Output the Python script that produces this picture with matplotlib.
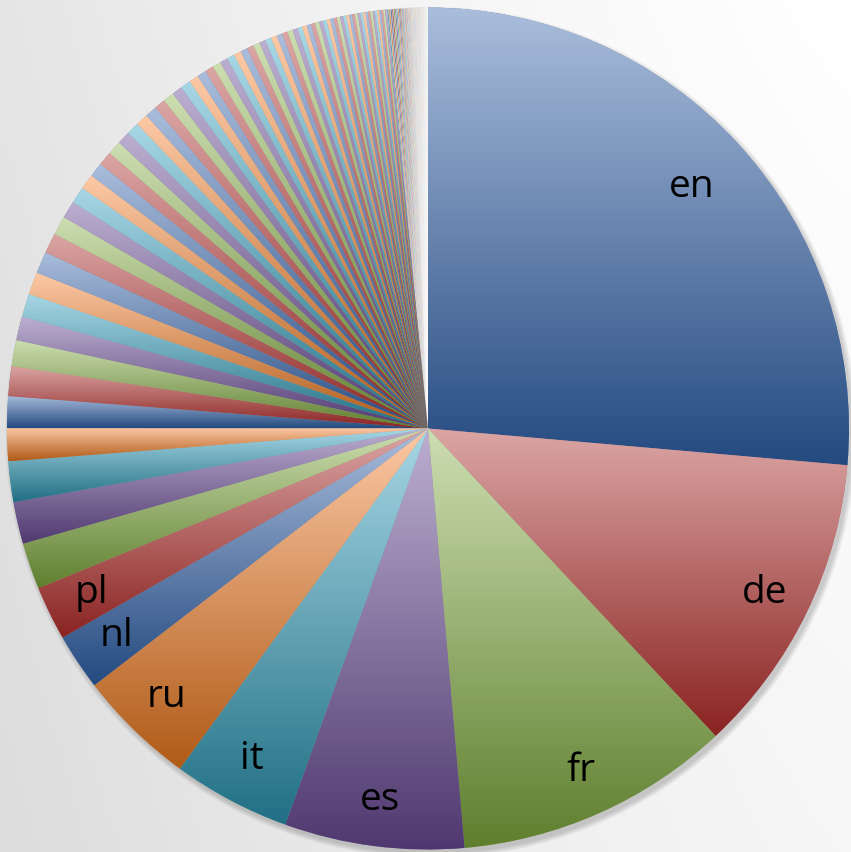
import numpy as np
import matplotlib
matplotlib.use('Agg')
import matplotlib.pyplot as plt
from matplotlib.colors import LinearSegmentedColormap, to_rgb
from matplotlib.patches import Circle

# share of articles per language edition (pie degrees), largest first
labels = ['en', 'de', 'fr', 'es', 'it', 'ru', 'nl', 'pl']
top_share = [95.0, 41.9, 38.1, 24.8, 16.3, 16.3, 7.8, 7.5]
mid_share = [6.4, 5.8, 5.6, 4.5, 4.4, 4.1, 3.6, 3.3, 3.2, 3.1, 3.0, 2.8,
             2.6, 2.4, 2.3, 2.1]
tail_share = [2.0, 1.95, 1.9, 1.8, 1.75, 1.7, 1.6, 1.55, 1.5, 1.45, 1.4, 1.3,
              1.25, 1.2, 1.15, 1.1, 1.05,
              1.0, 0.97, 0.94, 0.91, 0.88, 0.85, 0.82, 0.79, 0.76, 0.73, 0.7,
              0.67, 0.64, 0.61, 0.58, 0.56, 0.54, 0.52, 0.5, 0.48, 0.46,
              0.44, 0.43, 0.42, 0.41, 0.40, 0.39, 0.38, 0.37, 0.36, 0.35,
              0.34, 0.33, 0.32, 0.31, 0.30, 0.29, 0.28, 0.27, 0.26, 0.25,
              0.24, 0.23, 0.22, 0.21, 0.20, 0.19, 0.18, 0.17, 0.16, 0.15,
              0.14, 0.13, 0.12, 0.11, 0.10, 0.10, 0.09, 0.09, 0.08, 0.08,
              0.07, 0.07, 0.07, 0.06, 0.06, 0.06,
              0.05, 0.05, 0.05, 0.05, 0.05, 0.05, 0.05, 0.05, 0.05, 0.05, 0.05, 0.05,
              0.04, 0.04, 0.04, 0.04, 0.04, 0.04, 0.04, 0.04, 0.04, 0.04, 0.04, 0.04, 0.04, 0.04,
              0.03, 0.03, 0.03, 0.03, 0.03, 0.03, 0.03, 0.03, 0.03, 0.03, 0.03, 0.03, 0.03, 0.03, 0.03, 0.03,
              0.02, 0.02, 0.02, 0.02, 0.02, 0.02, 0.02, 0.02, 0.02, 0.02, 0.02,
              0.02, 0.02, 0.02, 0.02, 0.02, 0.02, 0.02, 0.02, 0.02, 0.02, 0.02,
              0.01, 0.01, 0.01, 0.01, 0.01, 0.01, 0.01, 0.01, 0.01, 0.01,
              0.01, 0.01, 0.01, 0.01, 0.01]

share = top_share + mid_share + tail_share

# office-style gradient pairs (top light, bottom dark)
palette = [('#aabddc', '#244a80'),   # blue
           ('#dba6a5', '#8a2321'),   # red
           ('#cddeb2', '#5f7f2e'),   # green
           ('#bcafd0', '#4f386f'),   # purple
           ('#a8d7e5', '#206f84'),   # aqua
           ('#fcc9a6', '#b05a16')]   # orange

R = 421
XL, YL = (-428, 423), (-423.5, 428.5)
fig = plt.figure(figsize=(8.51, 8.52), dpi=100)
ax = fig.add_axes([0, 0, 1, 1])

# background: soft grey, lighter to the top right
gx, gy = np.meshgrid(np.linspace(0, 1, 200), np.linspace(0, 1, 200))
bg = 1 - 0.10 * (1 - gx) ** 1.3 - 0.035 * gy
ax.imshow(np.dstack([bg, bg, bg]), extent=XL + YL,
          origin='upper', aspect='auto', zorder=0)

# soft drop shadow, falling to the lower right
for k in range(8):
    ax.add_patch(Circle((3, -4), R + 0.7 * k, color='k', alpha=0.022,
                        lw=0, zorder=0.5))

wedges, _ = ax.pie(share, radius=R, startangle=90, counterclock=False,
                   wedgeprops=dict(lw=0, zorder=1))

grad = np.linspace(1, 0, 256).reshape(-1, 1)
for i, w in enumerate(wedges):
    top, bot = palette[i % len(palette)]
    mid = tuple((np.array(to_rgb(top)) + np.array(to_rgb(bot))) / 2)
    w.set_facecolor(mid)
    if share[i] < 0.25:
        w.set_edgecolor((1, 1, 1, 0.6))
        w.set_linewidth(0.3)
        continue
    bb = w.get_path().get_extents()
    cmap = LinearSegmentedColormap.from_list('g%d' % i, [bot, top])
    im = ax.imshow(grad, cmap=cmap, vmin=0, vmax=1, aspect='auto',
                   extent=(bb.x0, bb.x1, bb.y0, bb.y1), origin='upper',
                   zorder=2, interpolation='bilinear')
    im.set_clip_path(w)

for i, lab in enumerate(labels):
    w = wedges[i]
    ang = np.deg2rad((w.theta1 + w.theta2) / 2)
    rr = R * (0.85 if i == 0 else 0.89)
    ax.text(rr * np.cos(ang), rr * np.sin(ang), lab, fontsize=28,
            family='Open Sans', ha='center', va='center', zorder=5)

ax.set_aspect('auto')
ax.set_xlim(*XL)
ax.set_ylim(*YL)
ax.axis('off')

fig.savefig('out.png', dpi=100)
